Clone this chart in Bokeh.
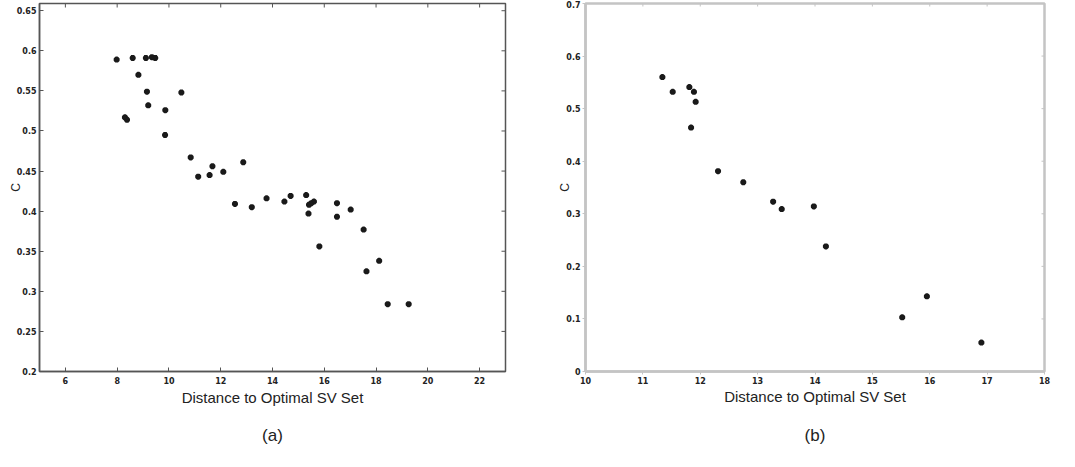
from bokeh.plotting import figure
from bokeh.models import FixedTicker, Range1d, LinearAxis
from bokeh.layouts import row
from bokeh.embed import file_html
from bokeh.resources import INLINE
import math

# Panel (a)
a_dist = [7.98, 8.6, 9.11, 9.34, 9.47, 8.82, 9.15, 10.48, 9.2, 9.86, 8.3, 8.38,
          9.85, 10.84, 12.87, 11.68, 11.57, 11.13, 12.1, 12.55, 13.2, 13.77,
          14.46, 14.7, 15.3, 15.41, 15.6, 15.5, 15.39, 16.49, 16.49, 17.02,
          17.52, 15.81, 18.12, 17.63, 18.45, 19.26]
a_c = [0.589, 0.591, 0.591, 0.592, 0.591, 0.570, 0.549, 0.548, 0.532, 0.526,
       0.517, 0.514, 0.495, 0.467, 0.461, 0.456, 0.445, 0.443, 0.449, 0.409,
       0.405, 0.416, 0.412, 0.419, 0.420, 0.408, 0.412, 0.410, 0.397, 0.410,
       0.393, 0.402, 0.377, 0.356, 0.338, 0.325, 0.284, 0.284]
a_xticks = [6, 8, 10, 12, 14, 16, 18, 20, 22]
a_yticks = [0.2, 0.25, 0.3, 0.35, 0.4, 0.45, 0.5, 0.55, 0.6, 0.65]
a_ylabels = ["0.2", "0.25", "0.3", "0.35", "0.4", "0.45", "0.5", "0.55", "0.6", "0.65"]

# Panel (b)
b_dist = [11.34, 11.52, 11.81, 11.89, 11.92, 11.84, 12.31, 12.75, 13.27, 13.42,
          13.98, 14.19, 15.52, 15.95, 16.9]
b_c = [0.560, 0.532, 0.541, 0.532, 0.513, 0.464, 0.381, 0.360, 0.323, 0.309,
       0.314, 0.238, 0.103, 0.143, 0.055]
b_xticks = [10, 11, 12, 13, 14, 15, 16, 17, 18]
b_yticks = [0, 0.1, 0.2, 0.3, 0.4, 0.5, 0.6, 0.7]
b_ylabels = ["0", "0.1", "0.2", "0.3", "0.4", "0.5", "0.6", "0.7"]

FONT = "Liberation Sans"
TICK_FONT = "DejaVu Sans"
TXT = "#222222"


def make_panel(xs, ys, xr, yr, xticks, yticks, ylabels, caption, width, height,
               ml, mr, mt, mb, line_color, line_w, tick_in, tick_out,
               x_std, x_lab_std, y_std, y_lab_std, box_tick, cap_std):
    p = figure(width=width, height=height, x_range=Range1d(*xr), y_range=Range1d(*yr),
               output_backend="svg", toolbar_location=None,
               min_border_left=ml, min_border_right=mr, min_border_top=mt,
               min_border_bottom=mb)
    p.grid.visible = False
    p.outline_line_color = line_color
    p.outline_line_width = line_w
    p.background_fill_color = "white"
    p.border_fill_color = "white"

    p.xaxis.ticker = FixedTicker(ticks=xticks)
    p.yaxis.ticker = FixedTicker(ticks=yticks)
    p.yaxis.major_label_overrides = {t: l for t, l in zip(yticks, ylabels)}
    for ax in (p.xaxis[0], p.yaxis[0]):
        ax.axis_line_color = line_color
        ax.axis_line_width = line_w
        ax.major_tick_line_color = line_color
        ax.major_tick_line_width = 1
        ax.major_tick_in = tick_in
        ax.major_tick_out = tick_out
        ax.minor_tick_line_color = None
        ax.major_label_text_font = TICK_FONT
        ax.major_label_text_font_size = "8px"
        ax.major_label_text_font_style = "bold"
        ax.major_label_text_color = TXT
        ax.axis_label_text_font = FONT
        ax.axis_label_text_font_style = "normal"
        ax.axis_label_text_color = TXT
    p.xaxis.axis_label = "Distance to Optimal SV Set"
    p.xaxis.axis_label_text_font_size = "15px"
    p.xaxis.major_label_standoff = x_std
    p.xaxis.axis_label_standoff = x_lab_std
    p.yaxis.axis_label = "C"
    p.yaxis.axis_label_text_font_size = "12px"
    p.yaxis.major_label_standoff = y_std
    p.yaxis.axis_label_standoff = y_lab_std

    # caption "(a)" / "(b)" as the label of a bare second bottom axis
    cap_ax = LinearAxis(ticker=FixedTicker(ticks=[]), axis_label=caption,
                        axis_line_color=None, major_tick_line_color=None,
                        minor_tick_line_color=None, major_tick_in=0, major_tick_out=0,
                        major_label_standoff=0, axis_label_standoff=cap_std,
                        axis_label_text_font=FONT, axis_label_text_font_size="17px",
                        axis_label_text_font_style="normal", axis_label_text_color=TXT)
    p.add_layout(cap_ax, "below")

    # inward tick marks on the top and right sides of the box (clipped to frame)
    p.scatter([xr[1]] * len(yticks), yticks, marker="dash", size=box_tick,
              line_color=line_color, line_width=1)
    p.scatter(xticks, [yr[1]] * len(xticks), marker="dash", size=box_tick,
              angle=math.pi / 2, line_color=line_color, line_width=1)

    p.scatter(xs, ys, marker="asterisk", size=6, line_width=2.2,
              line_color="#1a1a1a")
    p.scatter(xs, ys, marker="circle", size=4, fill_color="#1a1a1a",
              line_color=None)
    return p


pa = make_panel(a_dist, a_c, (5, 23), (0.2, 0.659), a_xticks, a_yticks, a_ylabels,
                "(a)", 530, 451, 39, 25, 3, 73, "#555555", 1.5, 4, 0,
                5, 2, 3, -9, 8, 17)
pb = make_panel(b_dist, b_c, (10, 18), (0, 0.7), b_xticks, b_yticks, b_ylabels,
                "(b)", 525, 451, 55, 11, 0, 80, "#c4c4c4", 2.5, 0, 3,
                2, 1, 2, -9, 6, 18)

layout = row(pa, pb)
open("out.html", "w").write(file_html(layout, INLINE))
